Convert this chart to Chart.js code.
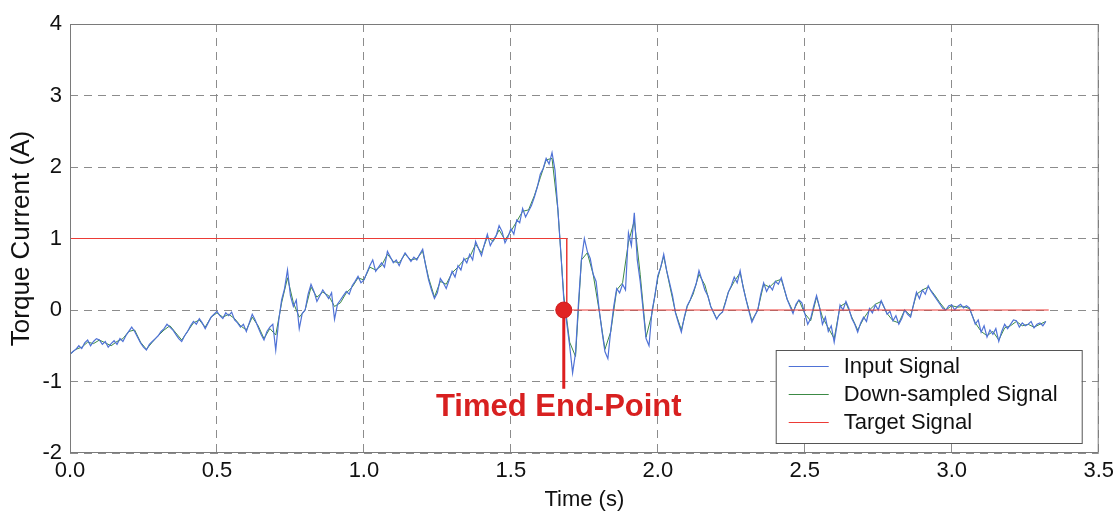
<!DOCTYPE html>
<html>
<head>
<meta charset="utf-8">
<title>Torque Current</title>
<script src="https://cdn.jsdelivr.net/npm/chart.js@4.4.1/dist/chart.umd.min.js"></script>
<style>
  body { margin: 0; background: #fff; }
  canvas { display: block; }
</style>
</head>
<body>
<canvas id="torqueChart" width="1119" height="517"></canvas>
<script>
// Sampled torque current (A): raw input at 10 ms
const inputStep = 0.01;
const inputSignal = [
  -0.62, -0.58, -0.55, -0.50, -0.54, -0.46, -0.42, -0.50, -0.44, -0.40,
  -0.42, -0.48, -0.44, -0.52, -0.47, -0.43, -0.48, -0.40, -0.44, -0.36,
  -0.30, -0.24, -0.30, -0.38, -0.46, -0.52, -0.56, -0.48, -0.44, -0.40,
  -0.36, -0.30, -0.26, -0.20, -0.24, -0.28, -0.34, -0.40, -0.44, -0.36,
  -0.30, -0.22, -0.16, -0.20, -0.12, -0.18, -0.26, -0.18, -0.10, -0.06,
  -0.02, -0.08, -0.12, -0.04, -0.08, -0.03, -0.14, -0.18, -0.24, -0.20,
  -0.30, -0.18, -0.06, -0.14, -0.24, -0.34, -0.42, -0.30, -0.24, -0.20,
  -0.56, -0.15, 0.14, 0.30, 0.56, 0.20, 0.05, 0.14, -0.26, -0.05,
  0.00, 0.22, 0.36, 0.26, 0.12, 0.20, 0.28, 0.22, 0.16, 0.24,
  -0.13, 0.08, 0.14, 0.20, 0.26, 0.22, 0.34, 0.40, 0.47, 0.38,
  0.42, 0.52, 0.62, 0.70, 0.54, 0.60, 0.66, 0.60, 0.82, 0.74,
  0.66, 0.70, 0.62, 0.72, 0.80, 0.74, 0.68, 0.74, 0.70, 0.78,
  0.85, 0.62, 0.42, 0.28, 0.16, 0.24, 0.44, 0.38, 0.30, 0.42,
  0.54, 0.46, 0.62, 0.56, 0.72, 0.66, 0.78, 0.70, 0.96, 0.86,
  0.76, 0.92, 1.06, 0.90, 0.98, 1.04, 1.18, 1.10, 0.94, 1.02,
  1.14, 1.06, 1.26, 1.22, 1.42, 1.30, 1.38, 1.46, 1.58, 1.72,
  1.90, 1.98, 2.12, 2.04, 2.20, 1.96, 1.40, 0.80, 0.15, -0.18,
  -0.50, -0.88, -0.60, 0.10, 0.70, 1.00, 0.82, 0.72, 0.50, 0.40,
  0.02, -0.30, -0.58, -0.68, -0.28, 0.05, 0.30, 0.24, 0.36, 0.28,
  1.08, 0.90, 1.36, 0.70, 0.40, 0.00, -0.40, -0.50, -0.02, 0.20,
  0.48, 0.60, 0.78, 0.55, 0.38, 0.20, -0.04, -0.18, -0.31, -0.10,
  0.06, 0.14, 0.25, 0.36, 0.55, 0.42, 0.28, 0.20, 0.05, -0.04,
  -0.13, -0.06, -0.03, 0.10, 0.25, 0.34, 0.46, 0.38, 0.55, 0.32,
  0.15, -0.02, -0.17, -0.08, 0.00, 0.22, 0.38, 0.26, 0.34, 0.28,
  0.40, 0.36, 0.45, 0.30, 0.15, 0.05, -0.05, 0.08, 0.14, 0.10,
  -0.05, -0.20, -0.12, 0.05, 0.20, 0.04, -0.20, -0.10, -0.30, -0.22,
  -0.45, -0.20, 0.07, 0.00, 0.12, 0.02, -0.12, -0.20, -0.31, -0.18,
  -0.10, -0.16, 0.02, -0.04, 0.07, 0.00, 0.13, 0.04, -0.06, -0.02,
  -0.15, -0.08, -0.20, -0.12, 0.00, -0.06, -0.10, 0.08, 0.25, 0.16,
  0.28, 0.22, 0.34, 0.26, 0.20, 0.14, 0.08, 0.02, 0.00, 0.06,
  0.07, 0.00, 0.05, 0.08, 0.03, 0.06, 0.03, -0.08, -0.20, -0.14,
  -0.31, -0.22, -0.38, -0.28, -0.34, -0.26, -0.44, -0.30, -0.20, -0.26,
  -0.20, -0.14, -0.15, -0.24, -0.18, -0.22, -0.20, -0.16, -0.25, -0.20,
  -0.18, -0.22, -0.16
];

// Down-sampled signal at 20 ms
const downStep = 0.02;
const downSampled = [
  -0.62, -0.55, -0.52, -0.45, -0.47, -0.42, -0.46, -0.50, -0.44, -0.40,
  -0.30, -0.28, -0.45, -0.55, -0.45, -0.36, -0.28, -0.22, -0.32, -0.42,
  -0.30, -0.18, -0.14, -0.24, -0.10, -0.04, -0.10, -0.06, -0.12, -0.22,
  -0.28, -0.10, -0.22, -0.40, -0.26, -0.35, 0.10, 0.45, 0.10, -0.10,
  0.00, 0.32, 0.18, 0.25, 0.20, 0.05, 0.10, 0.24, 0.32, 0.45,
  0.42, 0.60, 0.56, 0.62, 0.78, 0.68, 0.66, 0.78, 0.70, 0.72,
  0.82, 0.45, 0.18, 0.40, 0.36, 0.52, 0.60, 0.70, 0.74, 0.92,
  0.80, 1.02, 0.96, 1.12, 0.98, 1.10, 1.24, 1.38, 1.40, 1.60,
  1.85, 2.10, 2.12, 1.40, 0.20, -0.45, -0.65, 0.70, 0.80, 0.50,
  0.00, -0.55, -0.30, 0.28, 0.38, 0.95, 1.25, 0.50, -0.38, -0.05,
  0.45, 0.75, 0.35, -0.03, -0.28, 0.05, 0.22, 0.50, 0.35, 0.05,
  -0.12, -0.02, 0.25, 0.40, 0.52, 0.15, -0.15, 0.00, 0.36, 0.32,
  0.40, 0.43, 0.15, -0.02, 0.14, -0.05, -0.15, 0.18, -0.10, -0.25,
  -0.40, 0.05, 0.10, -0.10, -0.28, -0.12, 0.00, 0.08, 0.12, -0.05,
  -0.15, -0.18, 0.00, -0.08, 0.22, 0.28, 0.32, 0.22, 0.10, 0.00,
  0.06, 0.04, 0.05, 0.02, -0.18, -0.30, -0.36, -0.30, -0.42, -0.25,
  -0.22, -0.16, -0.22, -0.20, -0.24, -0.20, -0.16
];

// Target current: step from 1 A down to 0 A
const targetTimes = [0, 1.69, 1.69, 3.33];
const targetLevels = [1, 1, 0, 0];

// Timed end-point annotation
const endPointTime = 1.68;
const endPointLevel = 0;
const endPointStemEnd = -1.1;
const endPointLabel = "Timed End-Point";

const seriesNames = ["Input Signal", "Down-sampled Signal", "Target Signal"];
const seriesColors = ["#4f72d6", "#3c8a45", "#ec3b36"];

const xRange = { min: 0, max: 3.5, step: 0.5 };
const yRange = { min: -2, max: 4, step: 1 };

const FONT = "'Liberation Sans', Arial, sans-serif";

function toPoints(values, step) {
  return values.map((v, i) => ({ x: +(i * step).toFixed(3), y: v }));
}

const targetPoints = targetTimes.map((t, i) => ({ x: t, y: targetLevels[i] }));

// Frame around the plot area
const boxPlugin = {
  id: "plotBox",
  afterDraw(chart) {
    const { ctx, chartArea: a } = chart;
    ctx.save();
    ctx.strokeStyle = "#7a7a7a";
    ctx.lineWidth = 1;
    ctx.strokeRect(a.left + 0.5, a.top + 0.5, a.right - a.left - 1, a.bottom - a.top - 1);
    ctx.restore();
  }
};

// Red caption under the end-point marker
const endPointPlugin = {
  id: "endPointText",
  afterDatasetsDraw(chart) {
    const { ctx, scales } = chart;
    const x = scales.x.getPixelForValue(endPointTime) - 5;
    const y = scales.y.getPixelForValue(-1.36);
    ctx.save();
    ctx.font = "bold 31px " + FONT;
    ctx.fillStyle = "#d82020";
    ctx.textAlign = "center";
    ctx.textBaseline = "middle";
    ctx.fillText(endPointLabel, x, y);
    ctx.restore();
  }
};

// Legend box in the lower right corner of the plot
const legendPlugin = {
  id: "boxLegend",
  afterDraw(chart) {
    const { ctx, chartArea: a } = chart;
    const left = a.right - 323, top = a.bottom - 103;
    const w = 306, h = 93, row = 28;
    ctx.save();
    ctx.fillStyle = "#fff";
    ctx.fillRect(left, top, w, h);
    ctx.strokeStyle = "#555";
    ctx.lineWidth = 1;
    ctx.strokeRect(left + 0.5, top + 0.5, w, h);
    ctx.font = "22px " + FONT;
    ctx.textBaseline = "middle";
    ctx.textAlign = "left";
    seriesNames.forEach((name, i) => {
      const y = top + 16 + i * row;
      ctx.strokeStyle = seriesColors[i];
      ctx.beginPath();
      ctx.moveTo(left + 13, y + 0.5);
      ctx.lineTo(left + 53, y + 0.5);
      ctx.stroke();
      ctx.fillStyle = "#111";
      ctx.fillText(name, left + 68, y + 1);
    });
    ctx.restore();
  }
};

new Chart(document.getElementById("torqueChart"), {
  type: "line",
  data: {
    datasets: [
      {
        label: seriesNames[0],
        data: toPoints(inputSignal, inputStep),
        borderColor: seriesColors[0],
        borderWidth: 1.2,
        pointRadius: 0,
        order: 3
      },
      {
        label: seriesNames[1],
        data: toPoints(downSampled, downStep),
        borderColor: seriesColors[1],
        borderWidth: 1,
        pointRadius: 0,
        order: 4
      },
      {
        label: seriesNames[2],
        data: targetPoints,
        borderColor: seriesColors[2],
        borderWidth: 1,
        pointRadius: 0,
        order: 2
      },
      {
        data: [{ x: endPointTime, y: endPointLevel }, { x: endPointTime, y: endPointStemEnd }],
        borderColor: "#dd1f1f",
        borderWidth: 3,
        pointRadius: 0,
        order: 1
      },
      {
        data: [{ x: endPointTime, y: endPointLevel }],
        showLine: false,
        pointRadius: 8,
        pointBackgroundColor: "#e02424",
        pointBorderColor: "#d01c1c",
        order: 0
      }
    ]
  },
  options: {
    responsive: false,
    animation: false,
    events: [],
    layout: { padding: { left: 0, top: 24, right: 19, bottom: 0 } },
    elements: { line: { tension: 0 } },
    plugins: { legend: { display: false }, tooltip: { enabled: false } },
    scales: {
      x: {
        type: "linear",
        min: xRange.min,
        max: xRange.max,
        ticks: {
          stepSize: xRange.step,
          color: "#111",
          padding: 5,
          maxRotation: 0,
          font: { family: FONT, size: 22 },
          callback: v => v.toFixed(1)
        },
        grid: { color: "#8c8c8c", lineWidth: 1, drawTicks: false },
        border: { display: false, dash: [8, 6] },
        title: {
          display: true,
          text: "Time (s)",
          color: "#111",
          font: { family: FONT, size: 22 },
          padding: { top: 0, bottom: 4 }
        },
        afterFit(scale) { scale.height = 64; }
      },
      y: {
        min: yRange.min,
        max: yRange.max,
        ticks: {
          stepSize: yRange.step,
          color: "#111",
          padding: 8,
          font: { family: FONT, size: 22 }
        },
        grid: { color: "#8c8c8c", lineWidth: 1, drawTicks: false },
        border: { display: false, dash: [8, 6] },
        title: {
          display: true,
          text: "Torque Current (A)",
          color: "#111",
          font: { family: FONT, size: 26 },
          padding: { top: 6, bottom: 0 }
        },
        afterFit(scale) { scale.width = 70; }
      }
    }
  },
  plugins: [boxPlugin, endPointPlugin, legendPlugin]
});
</script>
</body>
</html>
